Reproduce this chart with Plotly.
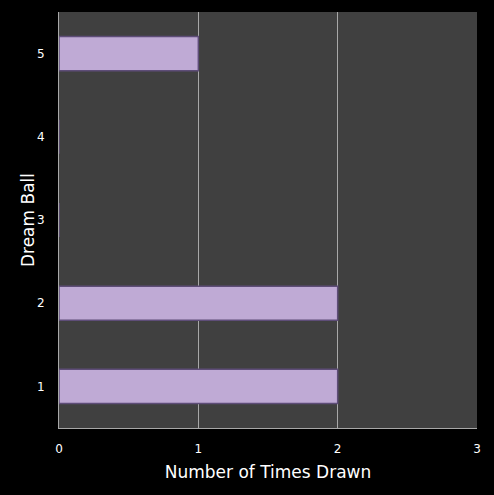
import plotly.graph_objects as go

balls = [1, 2, 3, 4, 5]
times_drawn = [2, 2, 0, 0, 1]
x_ticks = [0, 1, 2, 3]

fig = go.Figure()
fig.add_trace(go.Bar(
    x=times_drawn,
    y=balls,
    orientation="h",
    width=0.41,
    marker=dict(color="#bfaad5", line=dict(color="#5e4d78", width=1.5)),
))

fig.update_layout(
    width=494,
    height=495,
    margin=dict(l=59, r=17, t=12, b=67),
    paper_bgcolor="#000000",
    plot_bgcolor="#404040",
    font=dict(family="DejaVu Sans", color="#ffffff", size=12),
    showlegend=False,
    xaxis=dict(
        range=[0, 3],
        tickvals=x_ticks,
        showgrid=True,
        gridcolor="#a8a8a8",
        gridwidth=1,
        zeroline=False,
        showline=True,
        linecolor="#a8a8a8",
        ticks="outside",
        ticklen=10,
        tickcolor="rgba(0,0,0,0)",
        tickfont=dict(size=12),
        title=dict(text="Number of Times Drawn", font=dict(size=17), standoff=10),
    ),
    yaxis=dict(
        range=[0.5, 5.5],
        tickvals=balls,
        showgrid=False,
        zeroline=False,
        showline=True,
        linecolor="#a8a8a8",
        ticks="outside",
        ticklen=11,
        tickcolor="rgba(0,0,0,0)",
        tickfont=dict(size=12),
    ),
    annotations=[dict(
        text="Dream Ball", xref="paper", yref="paper", x=-0.074, y=0.5,
        xanchor="center", yanchor="middle", textangle=-90,
        showarrow=False, font=dict(size=17),
    )],
)

fig.write_html(
    "out.html",
    config={"displayModeBar": False},
    post_script="document.body.style.margin='0';",
)
